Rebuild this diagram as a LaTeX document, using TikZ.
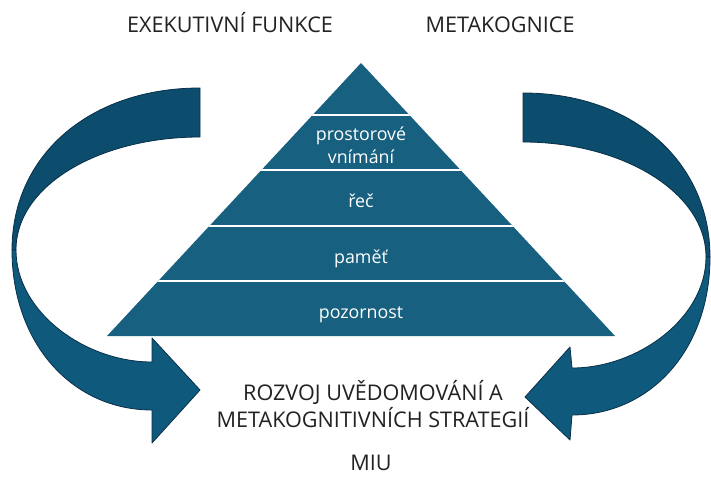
\documentclass[tikz,border=0pt]{standalone}
\usepackage{fontspec}
\setmainfont{Open Sans}
\definecolor{pyr}{HTML}{17607F}
\definecolor{arrUp}{HTML}{0C4C6C}
\definecolor{arrLow}{HTML}{0F5A7C}
\definecolor{arrEdge}{HTML}{08304A}
\definecolor{txt}{HTML}{222222}
\tikzset{
  captext/.style={inner sep=0pt, anchor=base, text=txt, font=\fontsize{21.6}{25}\selectfont},
  pyrtext/.style={inner sep=0pt, anchor=base, text=white, font=\fontsize{17.8}{21}\selectfont},
  arrowupper/.style={fill=arrUp, draw=arrEdge, line width=0.8pt, line join=round},
  arrowlower/.style={fill=arrLow, draw=arrEdge, line width=0.8pt, line join=round},
  sepline/.style={white, line width=2pt}
}
\begin{document}
\begin{tikzpicture}[x=1pt,y=-1pt]
\useasboundingbox (0,0) rectangle (711,484);
\fill[white] (0,0) rectangle (711,484);

% pyramid
\coordinate (apex) at (361,63);
\coordinate (bl) at (107,336);
\coordinate (br) at (615,336);
\fill[pyr] (apex) -- (br) -- (bl) -- cycle;
\begin{scope}
  \clip (apex) -- (br) -- (bl) -- cycle;
  \foreach \yy in {115,170,226,281} {
    \draw[sepline] (100,\yy) -- (620,\yy);
  }
\end{scope}

% pyramid labels
\node[pyrtext] (l1) at (361,140) {prostorové};
\node[pyrtext] (l2) at (361,163) {vnímání};
\node[pyrtext] (l3) at (361,207) {řeč};
\node[pyrtext] (l4) at (361,263) {paměť};
\node[pyrtext] (l5) at (361,318) {pozornost};

% left arrow
\draw[arrowupper] (200,88) .. controls (90,88) and (12,155) .. (12,250)
  -- (16,250) .. controls (16,185) and (100,137) .. (200,137) -- cycle;
\draw[arrowlower] (12,250) .. controls (12,343) and (72,410) .. (152,410)
  -- (152,443) -- (200,390) -- (152,338) -- (152,362)
  .. controls (85,362) and (16,312) .. (16,250) -- cycle;

% right arrow
\draw[arrowupper] (523,93) .. controls (633,93) and (710,162) .. (710,257)
  -- (706,257) .. controls (706,192) and (622,142) .. (523,142) -- cycle;
\draw[arrowlower] (710,257) .. controls (710,350) and (650,415) .. (572,415)
  -- (570,440) -- (525,397) -- (570,347) -- (572,368)
  .. controls (638,368) and (706,318) .. (706,257) -- cycle;

% texts
\node[captext] (ef) at (230,33) {EXEKUTIVNÍ FUNKCE};
\node[captext] (mk) at (500,33) {METAKOGNICE};
\node[captext] (r1) at (373,400) {ROZVOJ UVĚDOMOVÁNÍ A};
\node[captext] (r2) at (373,427) {METAKOGNITIVNÍCH STRATEGIÍ};
\node[captext] (miu) at (371,470) {MIU};
\end{tikzpicture}
\end{document}
